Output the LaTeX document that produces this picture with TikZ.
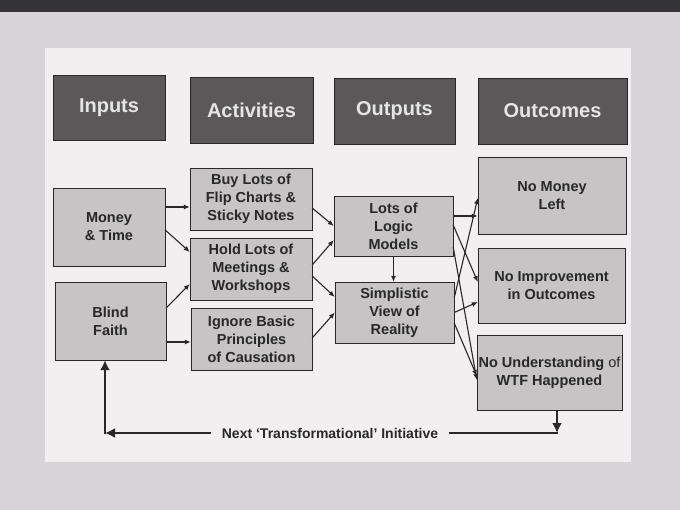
\documentclass[tikz,border=0pt]{standalone}
\usepackage{fontspec}
\setmainfont{Liberation Sans}
\usepackage{xcolor}
\usetikzlibrary{calc}
\usetikzlibrary{arrows.meta}

\definecolor{boardgray}{RGB}{214,212,215}
\definecolor{framegray}{RGB}{52,52,54}
\definecolor{papergray}{RGB}{241,239,239}
\definecolor{headgray}{RGB}{90,88,88}
\definecolor{boxgray}{RGB}{198,196,196}
\definecolor{inkgray}{RGB}{40,40,40}

\begin{document}
\begin{tikzpicture}[x=1pt, y=-1pt,
		header/.style={draw=inkgray, fill=headgray, text=white!90!black, inner sep=0pt, font=\fontsize{20}{24}\selectfont\bfseries},
		box/.style={draw=inkgray, fill=boxgray, text=inkgray, align=center, inner sep=1pt, font=\fontsize{14.5}{18}\selectfont\bfseries},
		flow/.style={draw=inkgray, line width=1.1pt, ->, >={Latex[length=6pt, width=5pt]}},
		backflow/.style={draw=inkgray, line width=2.4pt, >={Latex[length=10pt, width=10pt]}}
	]
	
	\useasboundingbox (0,0) rectangle (680,510);
	
	% the board and the sheet
	\fill[boardgray] (0,0) rectangle (680,510);
	\fill[framegray] (0,0) rectangle (680,12);
	\fill[papergray] (45,48) rectangle (631,462);
	
	% column headers
	\node[header, minimum width=112pt, minimum height=65pt] (inputs) at (109,107.5) {Inputs};
	\node[header, minimum width=123pt, minimum height=66pt] (activities) at (251.5,110) {Activities};
	\node[header, minimum width=121pt, minimum height=66pt] (outputs) at (394.5,111) {Outputs};
	\node[header, minimum width=149pt, minimum height=66pt] (outcomes) at (552.5,111) {Outcomes};
	
	% inputs
	\node[box, minimum width=112pt, minimum height=78pt] (money) at (109,227) {Money\\\& Time};
	\node[box, minimum width=111pt, minimum height=78pt] (blind) at (110.5,321) {Blind\\Faith};
	
	% activities
	\node[box, minimum width=122pt, minimum height=62pt] (buy) at (251,199) {Buy Lots of\\Flip Charts \&\\Sticky Notes};
	\node[box, minimum width=122pt, minimum height=62pt] (hold) at (251,269) {Hold Lots of\\Meetings \&\\Workshops};
	\node[box, minimum width=121pt, minimum height=62pt] (ignore) at (251.5,339) {Ignore Basic\\Principles\\of Causation};
	
	% outputs
	\node[box, minimum width=119pt, minimum height=60pt] (logic) at (393.5,226) {Lots of\\Logic\\Models};
	\node[box, minimum width=119pt, minimum height=61pt] (simple) at (394.5,312.5) {Simplistic\\View of\\Reality};
	
	% outcomes
	\node[box, minimum width=148pt, minimum height=77pt] (nomoney) at (552,195.5) {No Money\\Left};
	\node[box, minimum width=147pt, minimum height=75pt] (noimprove) at (551.5,285.5) {No Improvement\\in Outcomes};
	\node[box, minimum width=145pt, minimum height=75pt] (nounder) at (549.5,372.5) {No Understanding {\mdseries of}\\WTF Happened};
	
	% inputs to activities
	\draw[flow] ([yshift=20pt]money.east) -- ([yshift=-8pt]buy.west);
	\draw[flow] ([yshift=-3pt]money.east) -- ([yshift=17pt]hold.west);
	\draw[flow] ([yshift=13pt]blind.east) -- ([yshift=-15pt]hold.west);
	\draw[flow] ([yshift=-21pt]blind.east) -- ([yshift=-3pt]ignore.west);
	
	% activities to outputs
	\draw[flow] ([yshift=-9pt]buy.east) -- (logic.west);
	\draw[flow] ([yshift=4pt]hold.east) -- ([yshift=-14pt]logic.west);
	\draw[flow] ([yshift=-7pt]hold.east) -- ([yshift=15.5pt]simple.west);
	\draw[flow] ([yshift=1pt]ignore.east) -- (simple.west);
	\draw[flow] (logic.south) -- (logic.south |- simple.north);
	
	% outputs to outcomes
	\draw[flow] ([yshift=10pt]logic.east) -- ([yshift=-20.5pt]nomoney.west);
	\draw[flow] ([yshift=1pt]logic.east) -- ([yshift=3.5pt]noimprove.west);
	\draw[flow] ([yshift=-21pt]logic.east) -- ([yshift=-7.5pt]nounder.west);
	\draw[flow] ([yshift=14.5pt]simple.east) -- ([yshift=-2.5pt]nomoney.west);
	\draw[flow] (simple.east) -- ([yshift=-16.5pt]noimprove.west);
	\draw[flow] ([yshift=-10.5pt]simple.east) -- ([yshift=-3.5pt]nounder.west);
	
	% feedback loop
	\node[text=inkgray, inner xsep=11pt, inner ysep=0pt, font=\fontsize{14}{16}\selectfont\bfseries] (next) at (330,433) {Next `Transformational' Initiative};
	\coordinate (rcorner) at (557,433);
	\coordinate (lcorner) at (105,433);
	
	\draw[backflow] (next.east) -- ([xshift=1.2pt]rcorner);
	\draw[backflow, ->] (nounder.south -| rcorner) -- (rcorner);
	\draw[backflow, ->] (next.west) -- (lcorner);
	\draw[backflow, ->] ([yshift=-1.2pt]lcorner) -- (blind.south -| lcorner);
	
\end{tikzpicture}
\end{document}
